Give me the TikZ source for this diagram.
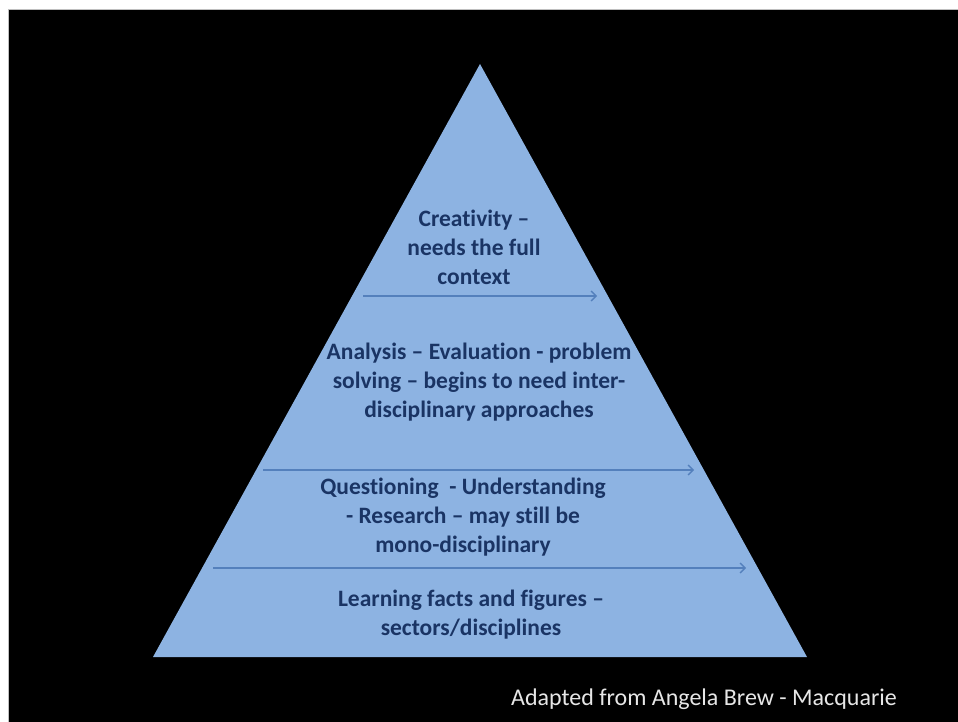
\documentclass[tikz,border=0pt]{standalone}
\usepackage{fontspec}
\setmainfont{Carlito}[Ligatures={NoCommon}]
\usetikzlibrary{arrows.meta}
\definecolor{trifill}{RGB}{141,179,226}
\definecolor{txtblue}{RGB}{26,52,100}
\definecolor{arrblue}{RGB}{84,128,188}
\definecolor{footgray}{RGB}{230,230,230}
\begin{document}
\begin{tikzpicture}[x=1pt,y=-1pt,
  lvl/.style={font=\bfseries\fontsize{23.5}{29}\selectfont, text=txtblue, align=center, inner sep=0pt},
  levelarrow/.style={draw=arrblue, line width=1.3pt, -{Straight Barb[length=5pt,width=10pt]}},
  foot/.style={font=\fontsize{24}{28}\selectfont, text=footgray, inner sep=0pt}]
\useasboundingbox (0,0) rectangle (958,722);
\fill[white] (0,0) rectangle (958,722);
\fill[black] (9,10) rectangle (958,722);
\draw[gray!50, line width=1pt] (8.5,722) -- (8.5,9.5) -- (958,9.5);
% pyramid
\coordinate (apex) at (480,64);
\coordinate (bl) at (153,657);
\coordinate (br) at (807,657);
\fill[trifill] (apex) -- (bl) -- (br) -- cycle;
% level texts
\node[lvl] (creat) at (474,247) {Creativity –\\needs the full\\context};
\node[lvl] (anal) at (479,382) {Analysis – Evaluation - problem\\solving – begins to need inter-\\disciplinary approaches};
\node[lvl] (quest) at (463,517) {Questioning \ - Understanding\\- Research – may still be\\mono-disciplinary};
\node[lvl] (learn) at (471,615) {Learning facts and figures –\\sectors/disciplines};
% arrows
\coordinate (a1s) at (363,296); \coordinate (a1e) at (597,296);
\coordinate (a2s) at (263,470); \coordinate (a2e) at (694,470);
\coordinate (a3s) at (213,568); \coordinate (a3e) at (746,568);
\draw[levelarrow] (a1s) -- (a1e);
\draw[levelarrow] (a2s) -- (a2e);
\draw[levelarrow] (a3s) -- (a3e);
% footer
\node[foot] (src) at (704,699) {Adapted from Angela Brew - Macquarie};
\end{tikzpicture}
\end{document}
